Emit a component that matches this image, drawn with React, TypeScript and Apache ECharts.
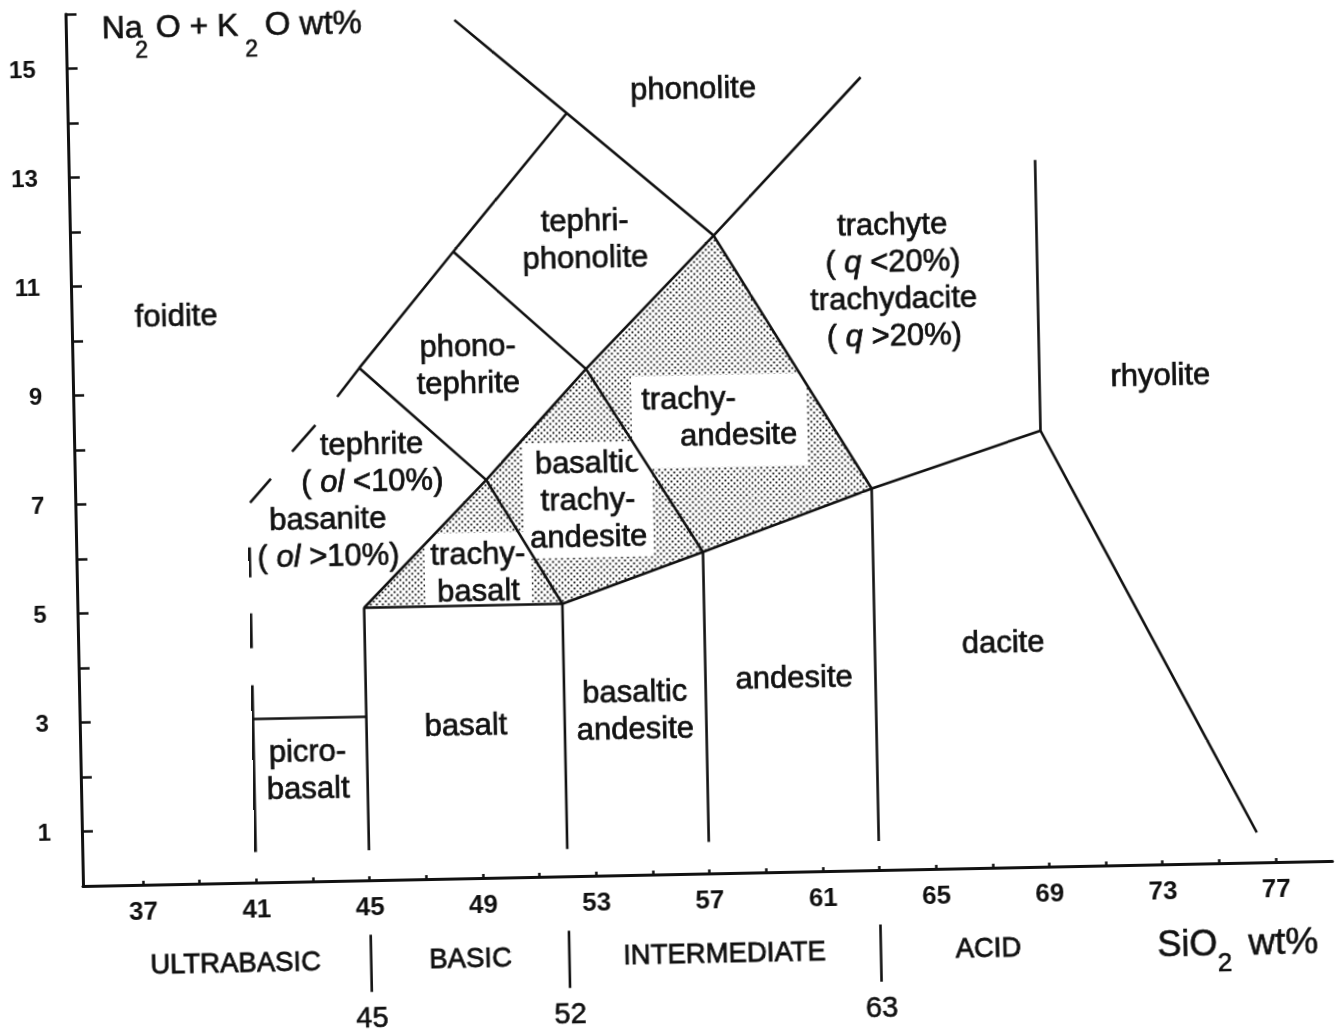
import React, { useEffect, useRef } from 'react';
import * as echarts from 'echarts';

const FONT = '"Liberation Sans", Arial, Helvetica, sans-serif';
const INK = '#111111';

// ---- axes ----
const xMin = 34.88;
const xMax = 79;
const yMin = 0;
const yMax = 16;
const xTickValues = [37, 39, 41, 43, 45, 47, 49, 51, 53, 55, 57, 59, 61, 63, 65, 67, 69, 71, 73, 75, 77];
const xLabelValues = [37, 41, 45, 49, 53, 57, 61, 65, 69, 73, 77];
const yLabelValues = [1, 3, 5, 7, 9, 11, 13, 15];
const silicaClassBounds = [45, 52, 63];
const silicaClassNames = ['ULTRABASIC', 'BASIC', 'INTERMEDIATE', 'ACID'];
// separator marks below the axis, in Na2O+K2O units (below zero)
const separatorSpan = [-1.0, -2.05];

// ---- field boundaries (SiO2, Na2O+K2O) ----
const boundaryLines: number[][][] = [
  [[41, 0.56], [41, 3.62]],
  [[41, 4.3], [41, 4.94]],
  [[41, 5.6], [41, 6.15]],
  [[41.05, 6.97], [41.8, 7.4]],
  [[42.57, 7.89], [43.41, 8.37]],
  [[44.2, 8.88], [45, 9.4], [48.4, 11.5], [52.5, 14]],
  [[48.6, 15.75], [52.5, 14], [57.6, 11.7], [62.9, 14.55]],
  [[41, 3], [45, 3]],
  [[45, 0.55], [45, 5], [52, 5], [57, 5.9], [63, 7], [69, 8]],
  [[45, 5], [49.4, 7.3], [53, 9.3], [57.6, 11.7]],
  [[45, 9.4], [49.4, 7.3], [52, 5]],
  [[48.4, 11.5], [53, 9.3], [57, 5.9]],
  [[57.6, 11.7], [63, 7]],
  [[52, 0.5], [52, 5]],
  [[57, 0.58], [57, 5.9]],
  [[63, 0.53], [63, 7]],
  [[69, 12.97], [69, 8], [76.35, 0.55]],
];

// stippled (trachy-) fields
const shadedFields: number[][][] = [
  [[45, 5], [49.4, 7.3], [52, 5]],
  [[49.4, 7.3], [53, 9.3], [57, 5.9], [52, 5]],
  [[53, 9.3], [57.6, 11.7], [63, 7], [57, 5.9]],
];

// ---- field names ----
const fieldLabels = [
  '{n|foidite}',
  '{n|phonolite}',
  '{n|tephri-}\n{n|phonolite}',
  '{n|phono-}\n{n|tephrite}',
  '{n|tephrite}\n{n|( }{i|ol}{n| <10%)}',
  '{n|basanite}\n{n|( }{i|ol}{n| >10%)}',
  '{n|trachy-}\n{n|basalt}',
  '{n|basaltic}\n{n|trachy-}\n{n|andesite}',
  '{l|trachy-}\n{r|andesite}',
  '{n|trachyte}\n{n|( }{i|q}{n| <20%)}\n{n|trachydacite}\n{n|( }{i|q}{n| >20%)}',
  '{n|rhyolite}',
  '{n|picro-}\n{n|basalt}',
  '{n|basalt}',
  '{n|basaltic}\n{n|andesite}',
  '{n|andesite}',
  '{n|dacite}',
];
const fieldLabelAt = [
  [38.57, 10.43],
  [56.98, 14.42],
  [53.06, 11.69],
  [48.84, 9.44],
  [45.38, 7.67],
  [43.78, 6.31],
  [49.05, 5.62],
  [52.98, 6.9],
  [57.67, 8.3],
  [63.91, 10.82],
  [73.27, 8.98],
  [42.9, 2.06],
  [48.51, 2.81],
  [54.49, 3.03],
  [60.13, 3.57],
  [67.53, 4.14],
];
const whiteBacked = [6, 7, 8];

function App() {
  const ref = useRef<HTMLDivElement>(null);

  useEffect(() => {
    if (!ref.current) return;
    const chart = echarts.init(ref.current, null, { renderer: 'svg' });

    const cv = document.createElement('canvas');
    cv.width = 6;
    cv.height = 6;
    const ctx = cv.getContext('2d');
    if (ctx) {
      ctx.fillStyle = '#ffffff';
      ctx.fillRect(0, 0, 6, 6);
      ctx.fillStyle = '#222222';
      ctx.fillRect(0.5, 0.5, 1.9, 1.9);
      ctx.fillRect(3.5, 3.5, 1.9, 1.9);
    }
    const stipple: any = { image: cv, repeat: 'repeat', imageWidth: 6, imageHeight: 6 };

    const tok = {
      fontSize: 31,
      fontFamily: FONT,
      color: INK,
      lineHeight: 37,
      textBorderColor: INK,
      textBorderWidth: 0.7,
      opacity: 1,
    };
    const richBase = {
      n: { ...tok },
      i: { ...tok, fontStyle: 'italic' },
      l: { ...tok, align: 'left' },
      r: { ...tok, align: 'left', padding: [0, 0, 0, 38] },
    };

    const lineSeries = boundaryLines.map((pts) => ({
      type: 'line',
      data: pts,
      symbol: 'none',
      showSymbol: false,
      silent: true,
      z: 3,
      lineStyle: { color: INK, width: 2.6 },
    }));

    const separatorSeries = silicaClassBounds.map((x) => ({
      type: 'line',
      data: separatorSpan.map((y) => [x, y]),
      symbol: 'none',
      showSymbol: false,
      silent: true,
      clip: false,
      z: 3,
      lineStyle: { color: INK, width: 2.6 },
    }));

    const txt = (text: string, x: number, y: number, size: number, align = 'left', weight = 0.6) => ({
      type: 'text',
      x,
      y,
      silent: true,
      style: {
        text,
        fontSize: size,
        fontFamily: FONT,
        fill: INK,
        stroke: INK,
        lineWidth: weight,
        align,
        verticalAlign: 'middle',
      },
    });

    const option: any = {
      animation: false,
      backgroundColor: '#ffffff',
      grid: {
        left: 83,
        top: 14,
        width: 1249.7,
        height: 872,
        containLabel: false,
        outerBoundsMode: 'none',
      },
      xAxis: [
        {
          type: 'value',
          min: xMin,
          max: xMax,
          position: 'bottom',
          splitLine: { show: false },
          axisLine: { show: true, onZero: false, lineStyle: { color: INK, width: 3 } },
          axisTick: {
            show: true,
            inside: true,
            length: 4,
            customValues: xTickValues,
            lineStyle: { color: INK, width: 2.5 },
          },
          axisLabel: {
            show: true,
            customValues: xLabelValues,
            fontSize: 26,
            fontWeight: 'bold',
            fontFamily: FONT,
            color: INK,
            margin: 13,
          },
        },
        {
          type: 'value',
          min: xMin,
          max: xMax,
          position: 'bottom',
          offset: 114.5,
          splitLine: { show: false },
          axisLine: { show: false },
          axisTick: { show: false },
          axisLabel: {
            show: true,
            customValues: silicaClassBounds,
            fontSize: 29,
            fontFamily: FONT,
            color: INK,
            textBorderColor: INK,
            textBorderWidth: 0.6,
            margin: 8,
          },
        },
      ],
      yAxis: {
        type: 'value',
        min: yMin,
        max: yMax,
        interval: 1,
        splitLine: { show: false },
        axisLine: { show: true, onZero: false, lineStyle: { color: INK, width: 3 } },
        axisTick: { show: true, inside: true, length: 11, lineStyle: { color: INK, width: 2.5 } },
        axisLabel: {
          show: true,
          fontSize: 24,
          fontWeight: 'bold',
          fontFamily: FONT,
          color: INK,
          margin: 31,
          formatter: (v: number) => (yLabelValues.indexOf(Math.round(v)) >= 0 ? String(Math.round(v)) : ''),
        },
      },
      graphic: [
        // Na2O + K2O wt%
        txt('Na', 119, 27.5, 32),
        txt('2', 152, 51, 23),
        txt('O + K', 173, 27.5, 32),
        txt('2', 262, 52, 23),
        txt('O wt%', 282, 27.5, 33),
        // SiO2 wt%
        txt('SiO', 1156, 965, 36),
        txt('2', 1216, 985, 26),
        txt('wt%', 1247, 965, 37),
        ...silicaClassNames.map((name, i) =>
          txt(name, [234, 469, 723, 987][i], 965.5, 27.5, 'center', 0.8)
        ),
      ],
      series: [
        {
          type: 'custom',
          z: 1,
          silent: true,
          data: shadedFields.map((_, i) => [i]),
          renderItem: (params: any, api: any) => {
            const poly = shadedFields[params.dataIndex];
            const pts = poly.map((p) => api.coord(p));
            return {
              type: 'polygon',
              shape: { points: pts },
              style: { fill: stipple, stroke: null },
            };
          },
        },
        {
          type: 'scatter',
          z: 2,
          silent: true,
          symbolSize: 0.1,
          itemStyle: { color: 'rgba(0,0,0,0)', opacity: 1 },
          data: fieldLabelAt.map((p, i) =>
            whiteBacked.indexOf(i) >= 0
              ? {
                  value: p,
                  label: {
                    backgroundColor: '#ffffff',
                    padding: i === 8 ? [4, 10, 14, 10] : [2, 6],
                  },
                }
              : { value: p }
          ),
          label: {
            show: true,
            position: 'inside',
            opacity: 1,
            formatter: (p: any) => fieldLabels[p.dataIndex],
            fontSize: 31,
            fontFamily: FONT,
            color: INK,
            lineHeight: 37,
            rich: richBase,
          },
        },
        ...lineSeries,
        ...separatorSeries,
      ],
    };

    chart.setOption(option);
    return () => {
      chart.dispose();
    };
  }, []);

  return (
    <div
      style={{
        position: 'fixed',
        left: 0,
        top: 0,
        width: 1360,
        height: 1060,
        background: '#ffffff',
        transform: 'rotate(-1.15deg)',
        transformOrigin: '83px 886px',
      }}
    >
      <div ref={ref} style={{ width: 1360, height: 1060 }} />
    </div>
  );
}

export default App;
